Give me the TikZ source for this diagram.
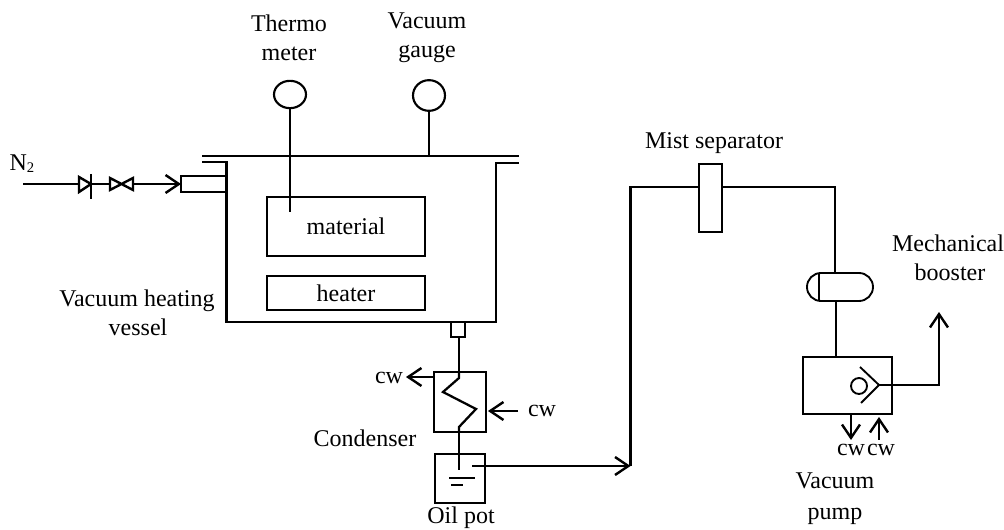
\documentclass[tikz,border=0pt]{standalone}
\usepackage{fontspec}
\setmainfont{Liberation Serif}
\usetikzlibrary{arrows.meta,shapes.geometric,shapes.misc}
\tikzset{
  pipe/.style={line width=1.7pt,black},
  thinpipe/.style={line width=1.4pt,black},
  flow/.style={pipe,-{Straight Barb[length=10pt,width=13.5pt,line width=1.8pt]}},
  unit/.style={draw,line width=1.7pt,rectangle,inner sep=0pt,outer sep=0pt,font=\fontsize{18}{20}\selectfont},
  gaugeshape/.style={draw,line width=1.6pt,ellipse,inner sep=0pt,outer sep=0pt},
  lbl/.style={inner sep=0pt,outer sep=0pt,anchor=base,font=\fontsize{18}{20}\selectfont},
  valveline/.style={line width=1.8pt,black,line join=miter}
}
\begin{document}
\begin{tikzpicture}[x=0.75pt,y=-0.75pt]
\useasboundingbox (0,0) rectangle (1004,530);
% texts
\node[lbl] (tThermo) at (289,32) {Thermo};
\node[lbl] (tMeter) at (289,61) {meter};
\node[lbl] (tVacuum) at (427,29) {Vacuum};
\node[lbl] (tGauge) at (427,58) {gauge};
\node[lbl] (tN) at (22,171) {N\raisebox{-0.15ex}{\fontsize{11}{12}\selectfont 2}};
\node[lbl] (tVessel) at (137,307) {Vacuum heating};
\node[lbl] (tVessel2) at (138,336) {vessel};
\node[lbl] (tCwL) at (389,384) {cw};
\node[lbl] (tCwR) at (542,417) {cw};
\node[lbl] (tCond) at (365,447) {Condenser};
\node[lbl] (tOil) at (461,524) {Oil pot};
\node[lbl] (tMist) at (714,149) {Mist separator};
\node[lbl] (tMech) at (948,252) {Mechanical};
\node[lbl] (tBoost) at (950,281) {booster};
\node[lbl] (tCwA) at (851,456) {cw};
\node[lbl] (tCwB) at (881,456) {cw};
\node[lbl] (tVP) at (835,489) {Vacuum};
\node[lbl] (tVP2) at (835,520) {pump};
% units
\node[gaugeshape,minimum width=24pt,minimum height=20.5pt] (thermo) at (290,94.5) {};
\node[gaugeshape,minimum width=24pt,minimum height=23pt] (gauge) at (429,95.5) {};
\node[unit,minimum width=118.5pt,minimum height=44pt] (material) at (346,226.5) {material};
\node[unit,minimum width=118.5pt,minimum height=25.5pt] (heater) at (346,293) {heater};
\node[unit,minimum width=33.75pt,minimum height=12pt] (stub) at (203.5,184) {};
\node[unit,minimum width=10.5pt,minimum height=11.25pt] (drain) at (458,329.5) {};
\node[unit,minimum width=39pt,minimum height=45pt] (cond) at (460,402) {};
\node[unit,minimum width=37.5pt,minimum height=36.75pt] (pot) at (460,478.5) {};
\node[unit,minimum width=17.25pt,minimum height=51pt] (mist) at (710.5,198) {};
\node[draw,line width=1.4pt,rounded rectangle,inner sep=0pt,outer sep=0pt,minimum width=49.5pt,minimum height=21pt] (recv) at (840,287) {};
\node[unit,minimum width=66.75pt,minimum height=42.75pt] (pump) at (847.5,385.5) {};
\node[draw,line width=1.4pt,circle,inner sep=0pt,outer sep=0pt,minimum size=12pt] (rotor) at (859,386) {};
% named points
\coordinate (lidL) at (202,156); \coordinate (lidR) at (519,156);
\coordinate (n2) at (23,184);
\coordinate (ckA) at (79,184); \coordinate (ckB) at (91,184);
\coordinate (vA) at (110,184); \coordinate (vB) at (133,184);
\coordinate (tempEnd) at (290,212);
\coordinate (gaugeFoot) at (429,156);
\coordinate (pipeCorner) at (630.5,187);
\coordinate (pipeBottom) at (630.5,466);
\coordinate (pipeTR) at (835,187);
\coordinate (recvTop) at (835,273);
\coordinate (recvBot) at (836,301);
\coordinate (pumpTop) at (836,357);
\coordinate (potIn) at (459,470);
\coordinate (potOut) at (472,466);
\coordinate (pumpExit) at (879,385);
\coordinate (boostCorner) at (939,385);
\coordinate (boostEnd) at (939,312);
% vessel and lid
\draw[line width=2pt] (lidL) -- (lidR);
\draw[pipe,line join=miter] (202,162) -- (226.5,162) -- (226.5,322) -- (496,322) -- (496,163) -- (519,163);
% gauges
\draw[thinpipe] (thermo.south) -- (tempEnd);
\draw[pipe] (gauge.south) -- (gaugeFoot);
% nitrogen feed
\draw[pipe] (n2) -- (ckA);
\draw[valveline,fill=white] (ckA) -- (79,177) -- (91,184) -- (79,192) -- cycle;
\draw[valveline] (91,174) -- (91,199);
\draw[pipe] (ckB) -- (vA);
\draw[valveline,fill=white] (110,178) -- (133,190) -- (133,178) -- (110,190) -- cycle;
\draw[flow] (vB) -- (stub.west);
% condenser train
\draw[thinpipe] (459,337) -- (459,372);
\draw[pipe,line join=miter] (459,372) -- (459,378) -- (443,392) -- (476,409) -- (459,427) -- (459,432);
\draw[thinpipe] (459,432) -- (459,454);
\draw[thinpipe] (459,454) -- (potIn);
\draw[pipe] (449,478) -- (475,478);
\draw[pipe] (451,485) -- (463,485);
\draw[flow] (434,377) -- (406,377);
\draw[flow] (518,411) -- (488,411);
\draw[flow] (potOut) -- (pipeBottom);
% main pipe
\draw[pipe,line join=miter] (pipeBottom) -- (pipeCorner) -- (mist.west |- pipeCorner);
\draw[pipe,line join=miter] (mist.east |- pipeCorner) -- (pipeTR) -- (recvTop);
% receiver
\draw[line width=1.4pt] (819,273) -- (819,301);
\draw[pipe] (recvBot) -- (pumpTop);
% pump
\draw[line width=1.4pt,line join=miter] (860,367) -- (pumpExit) -- (861,403);
\draw[pipe,line join=miter,-{Straight Barb[length=10pt,width=13.5pt,line width=1.8pt]}] (pumpExit) -- (boostCorner) -- (boostEnd);
\draw[flow] (851,414) -- (851,440);
\draw[flow] (879,440) -- (879,417);
\end{tikzpicture}
\end{document}
